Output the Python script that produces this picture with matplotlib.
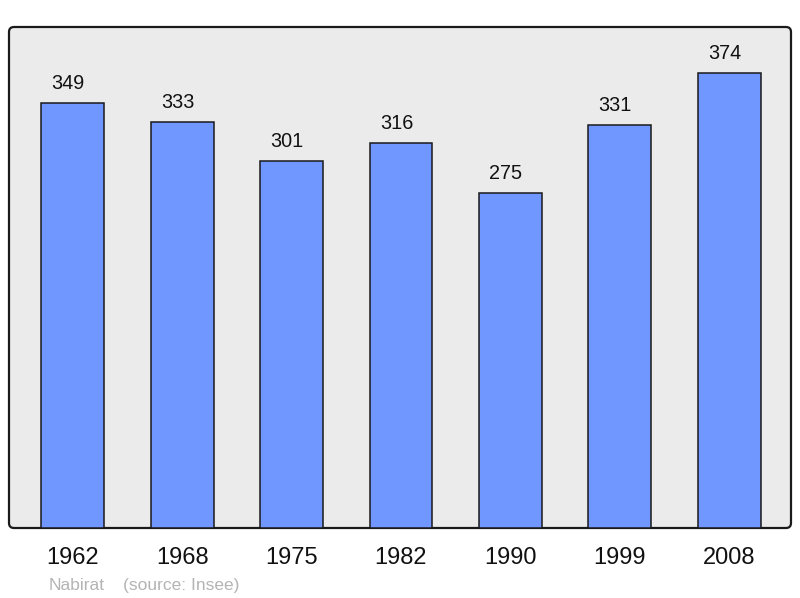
import matplotlib
matplotlib.use("Agg")
import matplotlib.pyplot as plt
from matplotlib.patches import FancyBboxPatch

years = ["1962", "1968", "1975", "1982", "1990", "1999", "2008"]
population = [349, 333, 301, 316, 275, 331, 374]
place = "Nabirat"
source = "(source: Insee)"

plt.rcParams['font.family'] = ['Liberation Sans', 'DejaVu Sans']

W, H = 800, 598
fig = plt.figure(figsize=(W / 100, H / 100), dpi=100)

x0, x1, ytop, ybot = 9, 791, 27, 528
frame = FancyBboxPatch((x0 / 100, (H - ybot) / 100), (x1 - x0) / 100, (ybot - ytop) / 100,
                       boxstyle="round,pad=0,rounding_size=0.05",
                       transform=fig.dpi_scale_trans, facecolor="#ebebeb",
                       edgecolor="#1a1a1a", linewidth=1.6, zorder=-5)
fig.patches.append(frame)

ax = fig.add_axes([x0 / W, 1 - ybot / H, (x1 - x0) / W, (ybot - ytop) / H])
ax.set_zorder(1)
ax.patch.set_visible(False)
for s in ax.spines.values():
    s.set_visible(False)

xs = list(range(len(years)))
ax.bar(xs, population, width=0.575, color="#7096ff", edgecolor="#1a1a1a", linewidth=1.1, zorder=2)
for x, v in zip(xs, population):
    ax.annotate(str(v), (x, v), xytext=(-4.5, 14), textcoords="offset pixels",
                ha="center", va="baseline", fontsize=14.3, color="#111111")

ax.set_xlim(-0.583, 6.565)
ax.set_ylim(0, max(population) * 1.1)
ax.set_yticks([])
ax.set_xticks(xs)
ax.set_xticklabels(years, fontsize=17, color="#111111")
ax.tick_params(axis="x", length=0, pad=14)

fig.text(49 / W, 1 - 590 / H, place, fontsize=12.5, color="#b4b4b4", ha="left", va="baseline")
fig.text(123 / W, 1 - 590 / H, source, fontsize=12.5, color="#b4b4b4", ha="left", va="baseline")

fig.savefig("out.png", dpi=100)
